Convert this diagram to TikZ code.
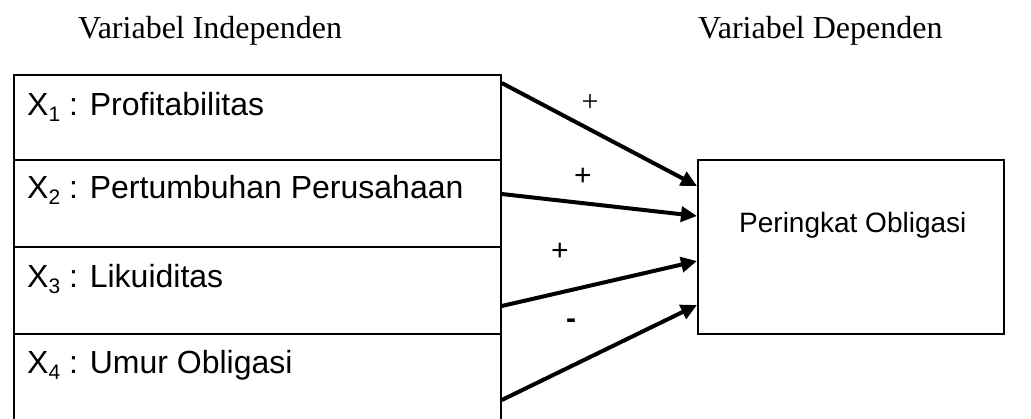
\documentclass[tikz,border=0pt]{standalone}
\usepackage{fontspec}
\setmainfont{Liberation Serif}
\setsansfont{Liberation Sans}
\usetikzlibrary{arrows.meta}
\newcommand{\xsub}[1]{\raisebox{-0.2em}{\fontsize{21}{24}\selectfont #1}}
\begin{document}
\begin{tikzpicture}[x=1pt,y=-1pt,
  cell/.style={draw,line width=1.8pt,inner sep=0pt,minimum width=487pt,anchor=north west},
  lbl/.style={font=\sffamily\fontsize{32}{38}\selectfont,anchor=base west,inner sep=0pt},
  head/.style={font=\rmfamily\fontsize{32}{38}\selectfont,anchor=base west,inner sep=0pt},
  sign/.style={font=\sffamily\fontsize{30}{36}\selectfont,inner sep=0pt},
  arr/.style={line width=4pt,-{Triangle[length=16pt,width=15pt]}}]
\clip (0,0) rectangle (1031,418);
\fill[white] (0,0) rectangle (1031,418);
% headings
\node[head] (h1) at (78,38) {Variabel Independen};
\node[head] (h2) at (698,38) {Variabel Dependen};
% left cells
\node[cell,minimum height=85pt] (c1) at (13,74) {};
\node[cell,minimum height=87pt] (c2) at (13,159) {};
\node[cell,minimum height=87pt] (c3) at (13,246) {};
\node[cell,minimum height=110pt] (c4) at (13,333) {};
\node[lbl] (t1) at (27,115) {X\xsub{1} : Profitabilitas};
\node[lbl] (t2) at (27,198) {X\xsub{2} : Pertumbuhan Perusahaan};
\node[lbl] (t3) at (27,287) {X\xsub{3} : Likuiditas};
\node[lbl] (t4) at (27,373) {X\xsub{4} : Umur Obligasi};
% right box
\node[draw,line width=1.8pt,inner sep=0pt,minimum width=306pt,minimum height=174pt,anchor=north west] (y) at (697,159) {};
\node[font=\sffamily\fontsize{28}{34}\selectfont,anchor=base west,inner sep=0pt] (yt) at (739,232) {Peringkat Obligasi};
% arrows
\draw[arr] ([yshift=-9pt]c1.north east) -- ([yshift=-27pt]y.north west);
\draw[arr] ([yshift=-35pt]c2.north east) -- ([yshift=-57pt]y.north west);
\draw[arr] ([yshift=-60pt]c3.north east) -- ([yshift=-102pt]y.north west);
\draw[arr] ([yshift=-67pt]c4.north east) -- ([yshift=-146pt]y.north west);
% signs
\node[font=\rmfamily\fontsize{30}{36}\selectfont,inner sep=0pt] (s1) at (590,103) {+};
\node[sign] (s2) at (583,177) {+};
\node[sign] (s3) at (560,252) {+};
\node[sign,font=\sffamily\bfseries\fontsize{30}{36}\selectfont] (s4) at (571,324) {-};
\end{tikzpicture}
\end{document}
